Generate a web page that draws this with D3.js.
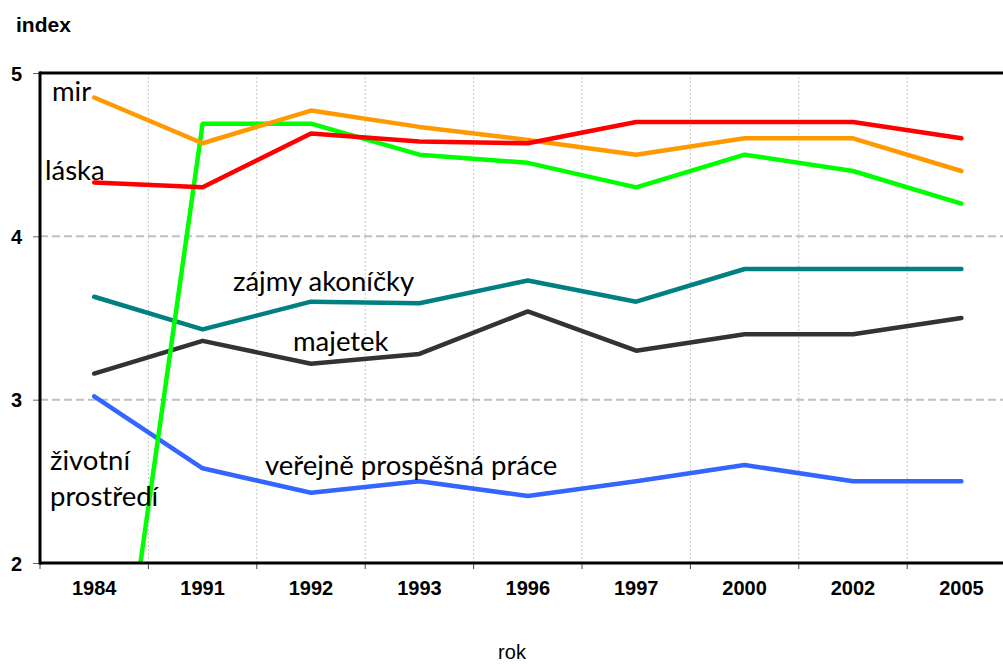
<!DOCTYPE html>
<html>
<head>
<meta charset="utf-8">
<script src="https://cdn.jsdelivr.net/npm/d3@7/dist/d3.min.js"></script>
<style>
  html, body { margin: 0; padding: 0; background: #fff; }
  svg { display: block; }
</style>
</head>
<body>
<svg id="chart" width="1003" height="664"></svg>
<script>
// ---- data ----
const years = ["1984", "1991", "1992", "1993", "1996", "1997", "2000", "2002", "2005"];
const yTicks = [2, 3, 4, 5];
const seriesNames = ["mir", "láska", "životní prostředí", "zájmy akoníčky", "majetek", "veřejně prospěšná práce"];
const mir        = [4.85, 4.57, 4.77, 4.67, 4.59, 4.50, 4.60, 4.60, 4.40];
const laska      = [4.33, 4.30, 4.63, 4.58, 4.57, 4.70, 4.70, 4.70, 4.60];
const zivotni    = [0.00, 4.69, 4.69, 4.50, 4.45, 4.30, 4.50, 4.40, 4.20];
const zajmy      = [3.63, 3.43, 3.60, 3.59, 3.73, 3.60, 3.80, 3.80, 3.80];
const majetek    = [3.16, 3.36, 3.22, 3.28, 3.54, 3.30, 3.40, 3.40, 3.50];
const verejne    = [3.02, 2.58, 2.43, 2.50, 2.41, 2.50, 2.60, 2.50, 2.50];

(function () {
// ---- layout ----
const svg = d3.select("#chart");
const pLeft = 40, pTop = 73, pBottom = 563;
const band = 108.4;
const pRight = pLeft + band * years.length;

const x = d3.scaleBand().domain(years).range([pLeft, pRight]).padding(0);
const y = d3.scaleLinear().domain([2, 5]).range([pBottom, pTop]);
const cx = d => x(d) + x.bandwidth() / 2;

svg.append("defs").append("clipPath").attr("id", "plotclip")
  .append("rect").attr("x", pLeft).attr("y", pTop).attr("width", pRight - pLeft).attr("height", pBottom - pTop);

// vertical dotted gridlines at band boundaries
const g = svg.append("g");
g.selectAll("line.vg").data(years.slice(1)).enter().append("line")
  .attr("x1", d => x(d)).attr("x2", d => x(d))
  .attr("y1", pTop).attr("y2", pBottom)
  .attr("stroke", "#c8c8c8").attr("stroke-width", 1).attr("stroke-dasharray", "2,2");

// horizontal dashed gridlines
g.selectAll("line.hg").data(yTicks.filter(t => t > 2 && t < 5)).enter().append("line")
  .attr("x1", pLeft).attr("x2", pRight)
  .attr("y1", d => y(d)).attr("y2", d => y(d))
  .attr("stroke", "#c0c0c0").attr("stroke-width", 2).attr("stroke-dasharray", "8,4");

// plot border top
svg.append("line").attr("x1", pLeft).attr("x2", pRight).attr("y1", pTop).attr("y2", pTop)
  .attr("stroke", "#000").attr("stroke-width", 3);

// lines
const colors = ["#FF9900", "#FF0000", "#00FF00", "#008080", "#333333", "#3366FF"];
const data = [mir, laska, zivotni, zajmy, majetek, verejne];
const line = d3.line().x((d, i) => cx(years[i])).y(d => y(d));
const order = [3, 4, 5, 2, 0, 1];
const lg = svg.append("g").attr("clip-path", "url(#plotclip)");
order.forEach(k => {
  lg.append("path").datum(data[k]).attr("d", line)
    .attr("fill", "none").attr("stroke", colors[k]).attr("stroke-width", 4.5)
    .attr("stroke-linejoin", "round").attr("stroke-linecap", "round");
});

// x axis
const xAxis = d3.axisBottom(x).tickSize(0).tickPadding(0);
const xa = svg.append("g").attr("transform", `translate(0,${pBottom})`).call(xAxis);
xa.select(".domain").remove();
xa.selectAll("text").attr("y", 32).attr("dy", null)
  .style("font-family", "Liberation Sans, Arial, sans-serif")
  .style("font-size", "20px").style("font-weight", "bold").attr("fill", "#000");
svg.append("g").selectAll("line").data(years.concat(["end"])).enter().append("line")
  .attr("x1", (d, i) => pLeft + i * band).attr("x2", (d, i) => pLeft + i * band)
  .attr("y1", pBottom).attr("y2", pBottom + 6)
  .attr("stroke", "#444").attr("stroke-width", 1);
svg.append("line").attr("x1", pLeft).attr("x2", pRight).attr("y1", pBottom).attr("y2", pBottom)
  .attr("stroke", "#000").attr("stroke-width", 3);

// y axis
const yAxis = d3.axisLeft(y).tickValues(yTicks).tickFormat(d3.format("d")).tickSize(7).tickPadding(11);
const ya = svg.append("g").attr("transform", `translate(${pLeft},0)`).call(yAxis);
ya.select(".domain").remove();
ya.selectAll(".tick line").attr("stroke", "#666").attr("stroke-width", 1);
ya.selectAll("text").attr("dy", "0.36em")
  .style("font-family", "Liberation Sans, Arial, sans-serif")
  .style("font-size", "20px").style("font-weight", "bold").attr("fill", "#000");
svg.append("line").attr("x1", pLeft).attr("x2", pLeft).attr("y1", pTop - 1.5).attr("y2", pBottom + 1.5)
  .attr("stroke", "#000").attr("stroke-width", 3);

// axis titles
svg.append("text").attr("x", 16).attr("y", 32).text("index")
  .style("font-family", "Liberation Sans, Arial, sans-serif")
  .style("font-size", "21px").style("font-weight", "bold");
svg.append("text").attr("x", 512).attr("y", 659).attr("text-anchor", "middle").text("rok")
  .style("font-family", "Liberation Sans, Arial, sans-serif").style("font-size", "20px");

// series labels
const labels = [
  { t: "mir", x: 52, y: 101 },
  { t: "láska", x: 45, y: 180 },
  { t: "zájmy akoníčky", x: 233, y: 291 },
  { t: "majetek", x: 293, y: 351 },
  { t: "životní", x: 50, y: 470 },
  { t: "prostředí", x: 50, y: 506 },
  { t: "veřejně prospěšná práce", x: 265, y: 475 }
];
svg.append("g").selectAll("text").data(labels).enter().append("text")
  .attr("x", d => d.x).attr("y", d => d.y).text(d => d.t)
  .style("font-family", "Lato, 'Open Sans', sans-serif").style("font-size", "27.5px").attr("fill", "#000");
})();
</script>
</body>
</html>
